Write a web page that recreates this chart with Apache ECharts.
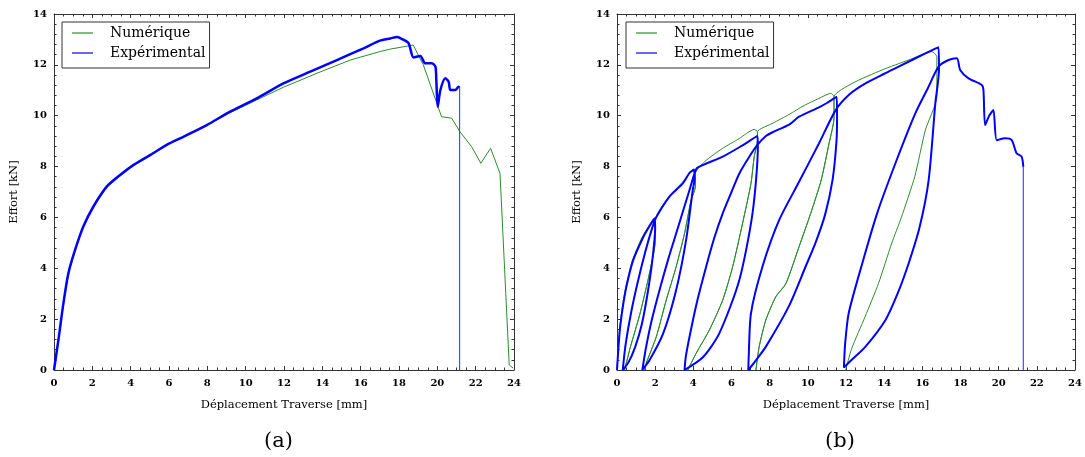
<!DOCTYPE html>
<html>
<head>
<meta charset="utf-8">
<script src="https://cdn.jsdelivr.net/npm/echarts@6/dist/echarts.min.js"></script>
<style>
html,body{margin:0;padding:0;background:#fff;}
#chart{width:1085px;height:457px;}
</style>
</head>
<body>
<div id="chart"></div>
<script>
// ---- Data ----
const xTickLabels = ['0','2','4','6','8','10','12','14','16','18','20','22','24'];
const yTickLabels = ['0','2','4','6','8','10','12','14'];
const seriesNames = ['Numérique', 'Expérimental'];
const panelLabels = ['(a)', '(b)'];
const xName = 'Déplacement Traverse [mm]';
const yName = 'Effort [kN]';

// (a) monotonic test
const numA = [[0,0],[0.23,1.18],[0.49,2.62],[0.75,3.8],[1.1,4.72],[1.53,5.64],[2.05,6.42],[2.75,7.18],[3.45,7.63],[4.14,8.02],[5.01,8.43],[5.88,8.84],[6.75,9.17],[7.97,9.63],[9.19,10.12],[10.58,10.62],[11.97,11.12],[13.72,11.67],[15.46,12.19],[17.0,12.52],[17.55,12.62],[18.74,12.78],[19.27,12.0],[20.22,9.96],[20.75,9.9],[21.18,9.37],[21.79,8.78],[22.27,8.13],[22.78,8.72],[23.27,7.73],[23.75,0.2],[23.96,0.07]];
const expA = [[0,0],[0.23,1.18],[0.49,2.62],[0.75,3.8],[1.1,4.72],[1.53,5.64],[2.05,6.42],[2.75,7.21],[3.45,7.67],[4.14,8.06],[5.01,8.45],[5.88,8.85],[6.75,9.17],[7.97,9.63],[9.19,10.16],[10.58,10.68],[11.97,11.27],[13.37,11.73],[14.76,12.19],[16.15,12.65],[17.0,12.95],[17.55,13.04],[17.9,13.1],[18.2,13.0],[18.5,12.85],[18.76,12.29],[19.11,12.35],[19.37,12.06],[19.72,12.06],[19.9,11.93],[19.95,11.34],[20.02,10.35],[20.16,11.01],[20.42,11.47],[20.59,11.34],[20.68,11.01],[20.94,11.01],[21.11,11.14],[21.16,11.1]];
const expDropA = [[21.16,11.1],[21.16,0]];

// (b) cyclic test
const numB = [[0,0],[0.12,1.5],[0.28,2.5],[0.47,3.3],[0.8,4.3],[1.3,5.2],[1.65,5.65],[1.97,5.98],
  [2.0,5.9],[2.0,5.05],[1.7,3.8],[1.2,2.2],[0.7,0.9],[0.4,0],[0.7,0.9],[1.2,2.2],[1.7,3.8],[2.0,5.05],[2.0,5.9],
  [2.75,6.85],[3.45,7.4],[3.97,7.86],
  [4.11,7.73],[4.11,7.21],[3.88,6.68],[3.54,5.37],[3.10,4.06],[2.58,2.75],[2.06,1.31],[1.53,0.26],[1.45,0],[1.53,0.26],[2.06,1.31],[2.58,2.75],[3.10,4.06],[3.54,5.37],[3.88,6.68],[4.11,7.21],[4.11,7.73],
  [4.6,8.2],[5.54,8.72],[6.4,9.1],[7.19,9.46],
  [7.36,9.37],[7.36,9.04],[7.19,8.39],[7.02,7.34],[6.58,5.77],[6.06,4.06],[5.54,2.75],[4.84,1.57],[4.15,0.66],[3.71,0],[4.15,0.66],[4.84,1.57],[5.54,2.75],[6.06,4.06],[6.58,5.77],[7.02,7.34],[7.19,8.39],[7.36,9.04],[7.36,9.37],
  [8.2,9.72],[9.02,10.05],[9.8,10.4],[10.58,10.68],[11.2,10.88],
  [11.37,10.75],[11.37,9.9],[11.11,8.91],[10.7,7.47],[10.15,6.16],[9.54,4.85],[8.85,3.4],[8.32,2.88],[7.80,1.97],[7.45,0.92],[7.28,0],[7.45,0.92],[7.80,1.97],[8.32,2.88],[8.85,3.4],[9.54,4.85],[10.15,6.16],[10.7,7.47],[11.11,8.91],[11.37,9.9],[11.37,10.75],
  [12.32,11.27],[13.89,11.8],[15.28,12.19],[16.5,12.52],
  [16.76,12.32],[16.76,10.75],[16.16,9.44],[15.6,7.6],[14.9,6.0],[14.4,5.0],[13.7,3.4],[13.0,2.1],[12.3,0.85],[11.98,0]];
const expB = [[0,0],[0.14,1.5],[0.31,2.5],[0.5,3.3],[0.84,4.3],[1.36,5.2],[1.7,5.65],[1.97,5.96],
  [2.0,5.6],[1.85,4.3],[1.6,3.0],[1.3,1.8],[0.95,0.9],[0.6,0.3],[0.3,0],
  [0.45,1.0],[0.75,2.3],[1.1,3.5],[1.5,4.7],[1.85,5.6],[2.05,6.0],
  [2.75,6.82],[3.45,7.34],[3.8,7.75],[4.04,7.88],
  [4.06,7.5],[3.97,7.08],[3.62,5.11],[3.1,3.15],[2.42,1.44],[1.71,0.39],[1.33,0],
  [1.5,0.8],[1.8,1.9],[2.23,3.15],[2.7,4.4],[3.1,5.37],[3.5,6.35],[3.8,7.08],[4.05,7.7],[4.2,7.95],
  [5.54,8.39],[6.5,8.8],[7.36,9.2],
  [7.38,8.78],[7.10,6.16],[6.41,3.54],[5.36,1.44],[4.5,0.5],[3.54,0],
  [3.6,0.5],[3.8,1.31],[4.2,2.7],[4.67,4.06],[5.1,5.2],[5.54,6.16],[6.0,7.0],[6.41,7.73],[6.9,8.35],[7.36,8.85],[7.8,9.2],[8.15,9.35],[9.02,9.65],[9.54,9.96],[10.58,10.33],[11.0,10.5],[11.51,10.75],
  [11.53,9.96],[11.5,9.0],[11.3,7.5],[10.9,6.1],[10.4,5.0],[9.9,4.1],[9.0,2.5],[7.8,0.92],[7.2,0.3],[6.88,0],
  [6.9,0.5],[7.02,2.23],[7.62,4.06],[8.5,5.9],[9.54,7.4],[10.58,8.91],[11.46,10.22],[12.2,10.85],[13.02,11.27],[14.0,11.65],[14.76,11.93],[16.16,12.45],[16.85,12.69],
  [16.87,11.8],[16.68,10.49],[16.33,7.47],[15.85,5.6],[15.28,4.19],[14.7,3.0],[14.07,1.97],[13.02,0.92],[12.3,0.4],[11.89,0.1],
  [11.95,1.0],[12.14,2.23],[12.85,4.19],[13.63,6.16],[14.59,8.13],[15.63,10.09],[16.3,11.1],[16.85,11.93],[17.37,12.19],[17.81,12.26],
  [17.98,11.8],[18.42,11.47],[19.11,11.21],[19.2,11.01],[19.29,9.63],[19.5,10.0],[19.72,10.22],[19.9,9.04],[20.33,9.11],[20.68,9.04],[20.94,8.52],[21.2,8.39],[21.29,7.99]];
const expDropB = [[21.29,7.99],[21.29,0]];

// ---- Styling ----
const FONT = 'DejaVu Serif';
const GREEN = '#2e8b2e';
const BLUE = '#0000ff';
const AX = '#333';
const LEG_LINE = 'path://M0,-7 L0,-7 M0,-0.6 L21,-0.6 L21,0.6 L0,0.6 Z M0,7 L0,7';

function xAx(grid, pos, labels) {
  return {
    type: 'value', gridIndex: grid, position: pos, min: 0, max: 24, interval: 2,
    name: labels ? xName : '', nameLocation: 'middle', nameGap: 29,
    nameTextStyle: {fontFamily: FONT, fontSize: 11.5, color: '#000'},
    axisLine: {show: true, onZero: false, lineStyle: {color: AX, width: 1}},
    axisTick: {show: true, inside: true, length: 4, lineStyle: {color: AX}},
    minorTick: {show: true, splitNumber: 4, length: 2.5, lineStyle: {color: AX}},
    axisLabel: {show: labels, margin: 8, fontFamily: FONT, fontSize: 10, fontWeight: 'bold', color: '#000',
      formatter: v => xTickLabels[Math.round(v / 2)] ?? ''},
    splitLine: {show: false}
  };
}
function yAx(grid, pos, labels) {
  return {
    type: 'value', gridIndex: grid, position: pos, min: 0, max: 14, interval: 2,
    name: labels ? yName : '', nameLocation: 'middle', nameGap: 34,
    nameTextStyle: {fontFamily: FONT, fontSize: 11.5, color: '#000'},
    axisLine: {show: true, onZero: false, lineStyle: {color: AX, width: 1}},
    axisTick: {show: true, inside: true, length: 4, lineStyle: {color: AX}},
    minorTick: {show: true, splitNumber: 5, length: 2.5, lineStyle: {color: AX}},
    axisLabel: {show: labels, margin: 7, fontFamily: FONT, fontSize: 10, fontWeight: 'bold', color: '#000',
      formatter: v => yTickLabels[Math.round(v / 2)] ?? ''},
    splitLine: {show: false}
  };
}
function line(name, data, xi, color, width, smooth) {
  return {name, type: 'line', data, xAxisIndex: xi, yAxisIndex: xi, showSymbol: false, symbol: 'none',
    smooth: smooth || false, lineStyle: {color, width}, itemStyle: {color}, animation: false, z: 2};
}
function legendAt(left) {
  return {
    left, top: 22, orient: 'vertical', itemWidth: 21, itemHeight: 14, itemGap: 6,
    padding: [4, 4, 8, 10], borderColor: '#333', borderWidth: 1, borderRadius: 0,
    textStyle: {fontFamily: FONT, fontSize: 14, color: '#000', padding: [0, 0, 0, 12]},
    data: [
      {name: seriesNames[0], icon: LEG_LINE, itemStyle: {color: GREEN}},
      {name: seriesNames[1], icon: LEG_LINE, itemStyle: {color: BLUE}}
    ]
  };
}

const chart = echarts.init(document.getElementById('chart'), null, {renderer: 'canvas'});
chart.setOption({
  animation: false,
  backgroundColor: '#fff',
  grid: [
    {left: 54, top: 14, width: 460, height: 356},
    {left: 617, top: 14, width: 460, height: 356}
  ],
  xAxis: [xAx(0, 'bottom', true), xAx(0, 'top', false), xAx(1, 'bottom', true), xAx(1, 'top', false)],
  yAxis: [yAx(0, 'left', true), yAx(0, 'right', false), yAx(1, 'left', true), yAx(1, 'right', false)],
  legend: [legendAt(62), legendAt(626)],
  series: [
    line(seriesNames[0], numA, 0, GREEN, 1, false),
    line(seriesNames[1], expA, 0, BLUE, 2.5, 0.25),
    line(seriesNames[1], expDropA, 0, '#4a4aff', 1.2, false),
    line(seriesNames[0], numB, 2, GREEN, 1, 0.2),
    line(seriesNames[1], expB, 2, BLUE, 2, 0.25),
    line(seriesNames[1], expDropB, 2, '#4a4aff', 1.2, false)
  ],
  graphic: [
    {type: 'text', left: 264, top: 431, style: {text: panelLabels[0], font: '21px "DejaVu Serif"', fill: '#000'}},
    {type: 'text', left: 825, top: 431, style: {text: panelLabels[1], font: '21px "DejaVu Serif"', fill: '#000'}}
  ]
});
</script>
</body>
</html>
